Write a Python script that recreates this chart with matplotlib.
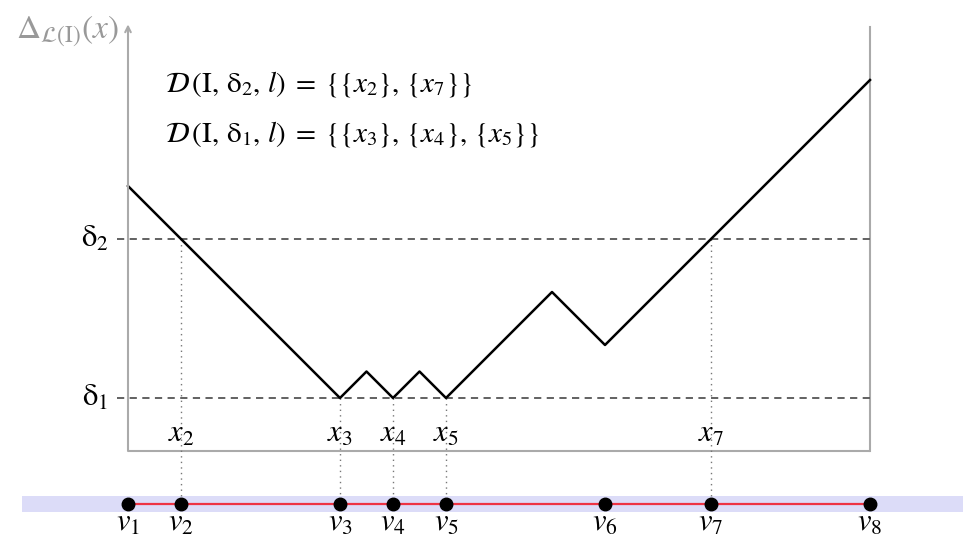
import numpy as np
import matplotlib.pyplot as plt

plt.rcParams['mathtext.fontset'] = 'stix'
plt.rcParams['font.family'] = 'STIXGeneral'

# vertex positions on the number line
v_pos = [0, 1, 4, 5, 6, 9, 11, 14]
v_labels = [r'$v_{%d}$' % i for i in range(1, 9)]

# distance function Delta_L(I)(x): breakpoints
curve_x = [0, 4, 4.5, 5, 5.5, 6, 8, 9, 14]
curve_y = [5, 1, 1.5, 1, 1.5, 1, 3, 2, 7]

delta1 = 1
delta2 = 4

# points where the curve meets a threshold
x_pts = [1, 4, 5, 6, 11]
x_levels = [delta2, delta1, delta1, delta1, delta2]
x_labels = [r'$x_2$', r'$x_3$', r'$x_4$', r'$x_5$', r'$x_7$']

y_top = 8
line_y = -1

fig = plt.figure(figsize=(9.63, 5.36), dpi=100)
ax = fig.add_axes([0, 0, 1, 1])
ax.set_xlim(-128 / 53, (963 - 128) / 53)
ax.set_ylim((451 - 536) / 53, 451 / 53)
ax.axis('off')

axis_col = '#aaaaaa'
fs = 22

# axes frame
ax.plot([0, 14], [0, 0], color=axis_col, lw=1.5, solid_capstyle='butt')
ax.plot([14, 14], [0, y_top], color=axis_col, lw=1.5)
ax.annotate('', xy=(0, y_top + 0.05), xytext=(0, 0),
            arrowprops=dict(arrowstyle='->', color=axis_col, lw=1.5,
                            shrinkA=0, shrinkB=0, mutation_scale=10))
ax.text(-0.17, 7.93, r'$\Delta_{\mathcal{L}(\mathrm{I})}(x)$', color='#999999',
        fontsize=24, ha='right', va='center')

# threshold lines
for d, lab in [(delta1, r'$\mathrm{\delta}_1$'), (delta2, r'$\mathrm{\delta}_2$')]:
    ax.plot([-0.2, 14], [d, d], color='#555555', lw=1.3, ls=(0, (4, 3)))
    ax.text(-0.62, d, lab, fontsize=fs, ha='center', va='center')

# dotted drops to the number line
for xp, lv, lab in zip(x_pts, x_levels, x_labels):
    ax.plot([xp, xp], [lv, line_y + 0.15], color='#777777', lw=1,
            ls=(0, (1, 3)))
    ax.text(xp, 0.3, lab, fontsize=fs, ha='center', va='center')

ax.plot(curve_x, curve_y, color='black', lw=1.8)

# number line
ax.axhspan(line_y - 0.16, line_y + 0.16, xmin=(22 / 963), xmax=1,
           color='#dcdcf8', lw=0)
ax.plot([v_pos[0], v_pos[-1]], [line_y, line_y], color='#ee3344', lw=1.6)
ax.plot(v_pos, [line_y] * len(v_pos), 'o', color='black', ms=9)
for xp, lab in zip(v_pos, v_labels):
    ax.text(xp, line_y - 0.37, lab, fontsize=fs, ha='center', va='center')

ax.text(0.7, 6.93, r'$\mathcal{D}\,(\mathrm{I},\, \mathrm{\delta}_2,\, l)\; =\; '
        r'\left\{\{x_2\},\, \{x_7\}\right\}$', fontsize=21,
        ha='left', va='center')
ax.text(0.7, 5.98, r'$\mathcal{D}\,(\mathrm{I},\, \mathrm{\delta}_1,\, l)\; =\; '
        r'\left\{\{x_3\},\, \{x_4\},\, \{x_5\}\right\}$', fontsize=21,
        ha='left', va='center')

fig.savefig('out.png', dpi=100)
